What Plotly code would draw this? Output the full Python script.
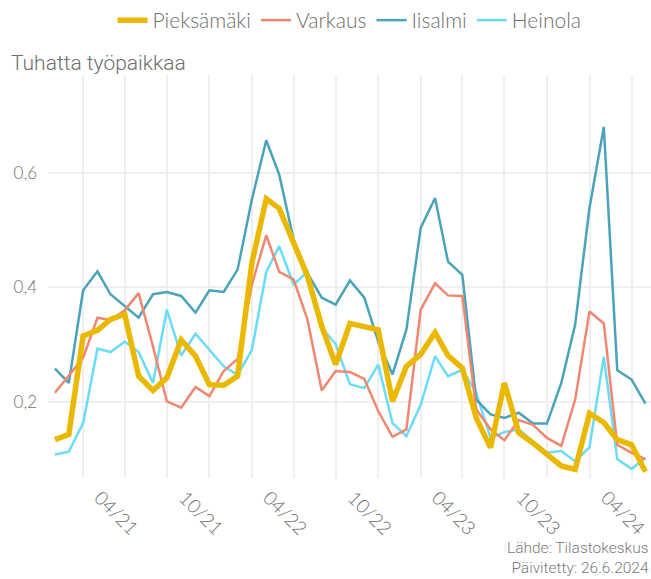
import pandas as pd
import plotly.graph_objects as go

months = pd.date_range("2020-11-01", periods=43, freq="MS")

pieksamaki = [0.134, 0.143, 0.315, 0.325, 0.344, 0.353, 0.245, 0.220, 0.242, 0.308,
              0.280, 0.230, 0.229, 0.245, 0.443, 0.555, 0.538, 0.478, 0.420, 0.332,
              0.265, 0.337, 0.332, 0.326, 0.201, 0.262, 0.283, 0.321, 0.281, 0.259,
              0.172, 0.120, 0.233, 0.146, 0.128, 0.109, 0.088, 0.082, 0.180, 0.164,
              0.134, 0.125, 0.078]
varkaus = [0.216, 0.245, 0.277, 0.347, 0.343, 0.360, 0.390, 0.297, 0.201, 0.190,
           0.226, 0.210, 0.254, 0.275, 0.405, 0.491, 0.427, 0.414, 0.344, 0.220,
           0.254, 0.252, 0.240, 0.184, 0.139, 0.152, 0.361, 0.407, 0.386, 0.385,
           0.187, 0.152, 0.133, 0.168, 0.160, 0.137, 0.123, 0.204, 0.358, 0.337,
           0.125, 0.111, 0.100]
iisalmi = [0.258, 0.233, 0.395, 0.428, 0.388, 0.367, 0.347, 0.388, 0.392, 0.385,
           0.356, 0.395, 0.392, 0.431, 0.554, 0.657, 0.597, 0.484, 0.425, 0.382,
           0.370, 0.412, 0.382, 0.306, 0.248, 0.326, 0.504, 0.556, 0.445, 0.422,
           0.204, 0.178, 0.172, 0.181, 0.162, 0.162, 0.233, 0.335, 0.539, 0.680,
           0.255, 0.239, 0.197]
heinola = [0.108, 0.113, 0.163, 0.293, 0.287, 0.305, 0.287, 0.233, 0.361, 0.281,
           0.319, 0.291, 0.262, 0.247, 0.291, 0.427, 0.472, 0.405, 0.427, 0.330,
           0.301, 0.231, 0.224, 0.265, 0.163, 0.140, 0.195, 0.280, 0.245, 0.256,
           0.216, 0.137, 0.147, 0.152, 0.131, 0.111, 0.114, 0.096, 0.121, 0.279,
           0.100, 0.083, 0.102]

series = [
    ("Pieksämäki", pieksamaki, "#EBB800", 5.5),
    ("Varkaus", varkaus, "#F08770", 2.5),
    ("Iisalmi", iisalmi, "#4BA3BA", 2.5),
    ("Heinola", heinola, "#6ADCF8", 2.5),
]

fig = go.Figure()
# draw Pieksämäki last so it is on top; keep legend order via legendrank
for rank, (name, vals, color, width) in reversed(list(enumerate(series))):
    fig.add_trace(go.Scatter(x=months, y=vals, name=name, mode="lines",
                             legendrank=rank + 1,
                             line=dict(color=color, width=width)))

grid = "#EFEFEF"
gray = "#6E6E6E"

fig.update_layout(
    width=651, height=579,
    margin=dict(l=48, r=0, t=75, b=101),
    paper_bgcolor="white", plot_bgcolor="white",
    separators=", ",
    font=dict(family="Lato, sans-serif", color=gray, weight=300),
    showlegend=True,
    legend=dict(orientation="h", x=0.5, xanchor="center", yref="container",
                y=1.0, yanchor="top", traceorder="normal",
                font=dict(family="Lato, sans-serif", size=21, color=gray, weight=300),
                itemwidth=30, tracegroupgap=0),
    xaxis=dict(
        range=["2020-10-17", "2024-05-13"],
        tick0="2021-04-01", dtick="M6", tickformat="%m/%y", tickangle=45,
        showgrid=True, gridcolor=grid, gridwidth=1.5,
        minor=dict(tick0="2021-01-01", dtick="M3", showgrid=True, gridcolor=grid, gridwidth=1.5),
        zeroline=False, showline=False, ticks="",
        tickfont=dict(family="Lato, sans-serif", size=19, color=gray, weight=300),
        ticklabelshift=-25, ticklabelstandoff=4, ticklabeloverflow="allow",
        automargin=False,
    ),
    yaxis=dict(
        range=[0.067, 0.771], dtick=0.2, tick0=0, tickformat=".1f",
        showgrid=True, gridcolor=grid, gridwidth=1.5,
        zeroline=False, showline=False, ticks="",
        tickfont=dict(family="Lato, sans-serif", size=17, color=gray, weight=300),
        ticklabelstandoff=10, automargin=False,
    ),
    annotations=[
        dict(text="Tuhatta työpaikkaa", xref="paper", yref="paper",
             x=-39 / 603, y=(478 - 63) / 403, xanchor="left", yanchor="middle",
             showarrow=False, font=dict(family="Roboto, sans-serif", size=21, color=gray, weight=300)),
        dict(text="Lähde: Tilastokeskus<br>Päivitetty: 26.6.2024", xref="paper", yref="paper",
             x=1, y=(478 - 579) / 403, xanchor="right", yanchor="bottom", align="right",
             showarrow=False, font=dict(family="Roboto, sans-serif", size=15.5, color="#7A7A7A", weight=300)),
    ],
)

fig.write_html(
    "out.html",
    config={"displayModeBar": False},
    post_script="document.body.style.margin='0';document.body.style.overflow='hidden';",
)
